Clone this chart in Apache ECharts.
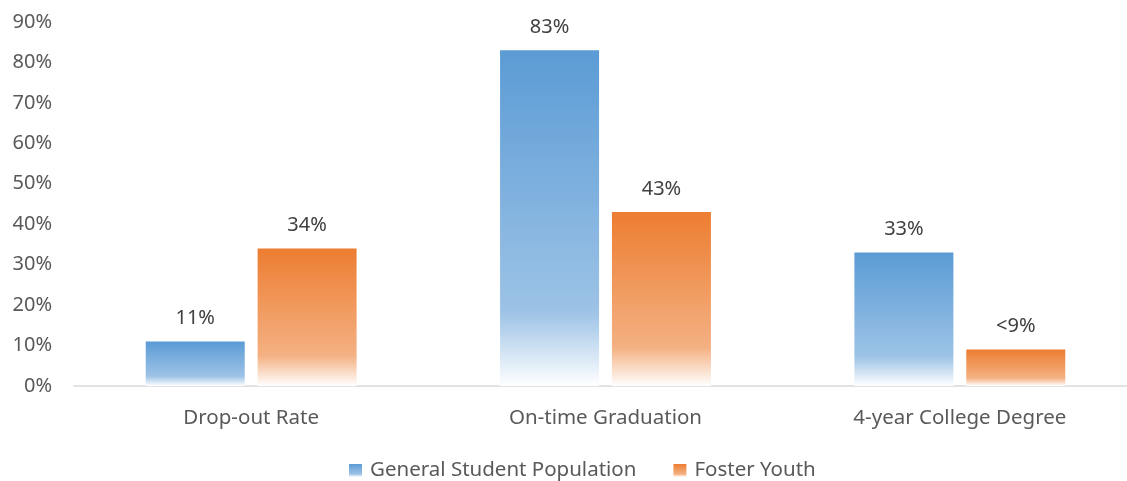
<!DOCTYPE html>
<html>
<head>
<meta charset="utf-8">
<script src="https://cdn.jsdelivr.net/npm/echarts@6/dist/echarts.min.js"></script>
<style>
  html, body { margin: 0; padding: 0; background: #fff; }
  #main { width: 1127px; height: 481px; }
</style>
</head>
<body>
<div id="main"></div>
<script>
var categories = ['Drop-out Rate', 'On-time Graduation', '4-year College Degree']
var generalValues = [11, 83, 33]
var fosterValues = [34, 43, 9]
var generalLabels = ['11%', '83%', '33%']
var fosterLabels = ['34%', '43%', '<9%']
var yTicks = [0, 10, 20, 30, 40, 50, 60, 70, 80, 90]

// vertical fade per bar, colour on top to white at the bottom
function fade(top, mid) {
    return new echarts.graphic.LinearGradient(0, 0, 0, 1, [
        { offset: 0, color: top },
        { offset: 0.78, color: mid },
        { offset: 1, color: '#ffffff' }
    ])
}

var font = '"Noto Sans", sans-serif'

var myChart = echarts.init(document.getElementById('main'))

var option = {
    animation: false,
    textStyle: { fontFamily: font },
    grid: { left: 74, top: 22, width: 1063, height: 364, outerBoundsMode: 'none' },
    legend: {
        top: 460,
        left: 349,
        padding: 0,
        itemWidth: 13,
        itemHeight: 13,
        itemGap: 37,
        icon: 'rect',
        textStyle: { fontSize: 20.5, color: '#595959', fontFamily: font, padding: [0, 0, 0, 3] },
        data: ['General Student Population', 'Foster Youth']
    },
    xAxis: {
        type: 'category',
        data: categories,
        axisLine: { lineStyle: { color: '#d9d9d9', width: 1.5 } },
        axisTick: { show: false },
        axisLabel: { fontSize: 20.5, color: '#595959', margin: 22, fontFamily: font }
    },
    yAxis: {
        type: 'value',
        min: yTicks[0],
        max: yTicks[yTicks.length - 1],
        interval: 10,
        splitLine: { show: false },
        axisLine: { show: false },
        axisTick: { show: false },
        axisLabel: {
            fontSize: 20, color: '#595959', margin: 22, fontFamily: font,
            formatter: function (v) { return v + '%' }
        }
    },
    series: [
        {
            name: 'General Student Population',
            type: 'bar',
            data: generalValues,
            barWidth: 99,
            barGap: '13%',
            itemStyle: { color: fade('#5b9bd5', '#9dc3e6') },
            label: {
                show: true, position: 'top', distance: 13,
                fontSize: 20, color: '#404040', fontFamily: font,
                formatter: function (p) { return generalLabels[p.dataIndex] }
            }
        },
        {
            name: 'Foster Youth',
            type: 'bar',
            data: fosterValues,
            barWidth: 99,
            itemStyle: { color: fade('#ed7d31', '#f4b183') },
            label: {
                show: true, position: 'top', distance: 13,
                fontSize: 20, color: '#404040', fontFamily: font,
                formatter: function (p) { return fosterLabels[p.dataIndex] }
            }
        }
    ]
}

myChart.setOption(option)
</script>
</body>
</html>
